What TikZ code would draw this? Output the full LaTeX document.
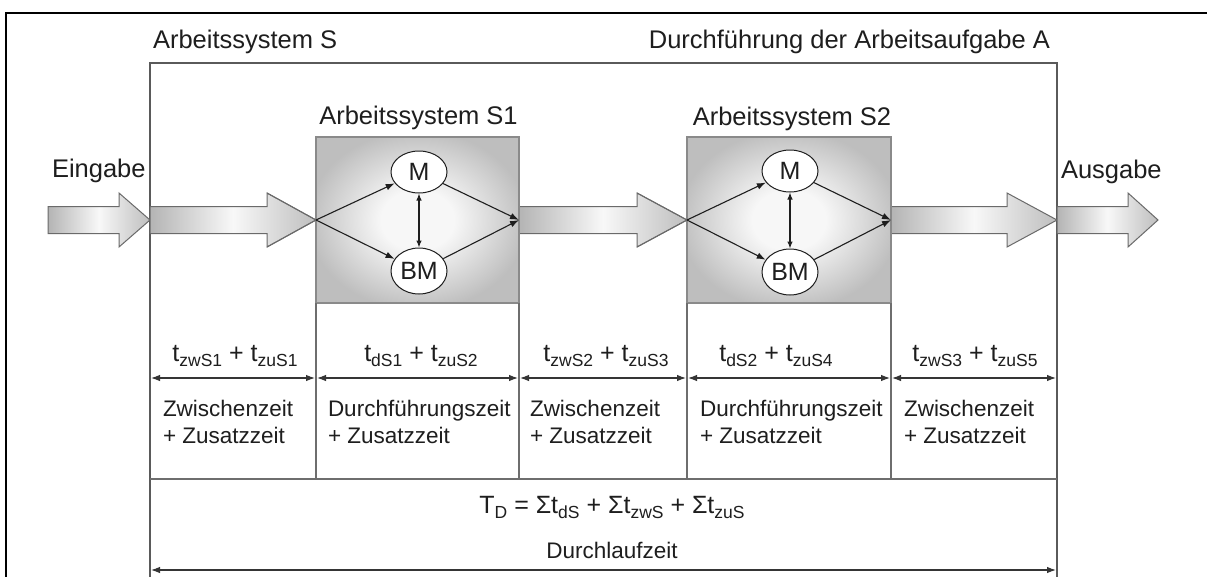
\documentclass[tikz,border=0pt]{standalone}
\usepackage{fontspec}
\setmainfont{Liberation Sans}
\usetikzlibrary{arrows.meta,shapes.geometric}

\definecolor{ink}{HTML}{1E1E1E}
\definecolor{frameline}{HTML}{5A5A5A}
\definecolor{cellline}{HTML}{6E6E6E}
\definecolor{boxedge}{HTML}{8A8A8A}
\definecolor{boxout}{HTML}{BEBEBE}
\definecolor{boxin}{HTML}{F7F7F7}
\definecolor{arrgray}{HTML}{B4B4B4}
\definecolor{arrlight}{HTML}{F8F8F8}
\definecolor{arrhead}{HTML}{BEBEBE}
\definecolor{arredge}{HTML}{6A6A6A}

% soft white glow in the middle of each work system box
\pgfdeclareradialshading{sysglow}{\pgfpoint{0bp}{0bp}}{%
  color(0bp)=(boxin); color(9bp)=(boxin); color(27bp)=(boxout); color(50bp)=(boxout)}

% lowered subscript for the time symbols
\newcommand{\tsub}[1]{\raisebox{-5pt}{\fontsize{17.5}{17.5}\selectfont #1}}

% block arrow: shaft start, head start, tip
\newcommand{\blockarrow}[3]{%
  \shadedraw[flowarrow] (#1,206.5) -- (#2,206.5) -- (#2,193) -- (#3,220)
    -- (#2,247) -- (#2,233.5) -- (#1,233.5) -- cycle;}

\begin{document}
\begin{tikzpicture}[x=1pt,y=-1pt,
  txt/.style={inner sep=0pt, outer sep=0pt, text=ink},
  headfont/.style={font=\fontsize{25.5}{30}\selectfont},
  descfont/.style={font=\fontsize{22.5}{27}\selectfont},
  timefont/.style={font=\fontsize{25}{29}\selectfont},
  flowarrow/.style={draw=arredge, line width=1pt, left color=arrgray,
    right color=arrhead, middle color=arrlight},
  sysbox/.style={rectangle, draw=boxedge, line width=1.2pt, shading=sysglow,
    minimum width=#1, minimum height=166pt, inner sep=0pt, outer sep=0pt},
  unit/.style={ellipse, draw=ink, fill=white, line width=1pt, inner sep=0pt,
    minimum width=56pt, minimum height=#1, text=ink,
    font=\fontsize{25}{30}\selectfont},
  flow/.style={draw=ink, line width=1.1pt, -{Latex[length=9pt,width=6.5pt]}},
  link/.style={draw=ink, line width=1.1pt,
    {Latex[length=7pt,width=5.5pt]}-{Latex[length=7pt,width=5.5pt]}},
  dim/.style={draw=ink!90, line width=1.1pt, shorten <=1pt, shorten >=1pt,
    {Latex[length=9pt,width=6.5pt]}-{Latex[length=9pt,width=6.5pt]}},
  cell/.style={draw=cellline, line width=1.3pt},
  desc/.style={txt, descfont, anchor=base west},
  tlabel/.style={txt, timefont, anchor=base}
]
\clip (0,0) rectangle (1207,576);
\fill[white] (0,0) rectangle (1207,576);

% outer page frame
\draw[line width=2.6pt, black] (6,600) |- (1230,13);

% frame of the overall work system S
\draw[frameline, line width=1.3pt] (150,600) |- (1057,63) -- (1057,600);

% headings
\node[txt, headfont, anchor=base west] (tS) at (153,48) {Arbeitssystem S};
\node[txt, headfont, anchor=base east] (tA) at (1050,48) {Durchführung der Arbeitsaufgabe A};
\node[txt, headfont, anchor=base west] (tin) at (52,177) {Eingabe};
\node[txt, headfont, anchor=base west] (tout) at (1061,178) {Ausgabe};

% material flow between the stations
\blockarrow{48}{119}{150}
\blockarrow{150}{267}{316}
\blockarrow{519}{637}{687}
\blockarrow{891}{1007}{1057}
\blockarrow{1057}{1128}{1158}

% work systems S1 and S2
\node[sysbox=203pt] (S1) at (417.5,220) {};
\node[sysbox=204pt] (S2) at (789,220) {};
\node[txt, headfont, anchor=base] (tS1) at (418.5,124) {Arbeitssystem S1};
\node[txt, headfont, anchor=base] (tS2) at (792,125) {Arbeitssystem S2};

% flow arrow heads re-drawn over the box edges
\draw[arredge, line width=1pt] (267,193) -- (316,220) -- (267,247);
\draw[arredge, line width=1pt] (637,193) -- (687,220) -- (637,247);

% human (M) and operating means (BM) inside each system
\node[unit=42pt] (M1) at (419,172) {M};
\node[unit=46pt] (BM1) at (419,271) {BM};
\node[unit=42pt] (M2) at (790,171) {M};
\node[unit=46pt] (BM2) at (790,272) {BM};

\foreach \s/\m/\b in {S1/M1/BM1, S2/M2/BM2} {
  \draw[flow] (\s.west) -- (\m);
  \draw[flow] (\s.west) -- (\b);
  \draw[flow] (\m) -- (\s.east);
  \draw[flow] (\b) -- (\s.east);
  \draw[link] (\m.south) -- (\b.north);
}

% time table below the systems
\coordinate (r0) at (150,479);
\coordinate (r5) at (1057,479);
\draw[cell] (r0) -- (r5);
\draw[cell] (S1.south west) -- (S1.south west |- r0);
\draw[cell] (S1.south east) -- (S1.south east |- r0);
\draw[cell] (S2.south west) -- (S2.south west |- r0);
\draw[cell] (S2.south east) -- (S2.south east |- r0);

% dimension lines of the single phases
\coordinate (d0) at (150,378);
\coordinate (d1) at (316,378);
\coordinate (d2) at (519,378);
\coordinate (d3) at (687,378);
\coordinate (d4) at (891,378);
\coordinate (d5) at (1057,378);
\draw[dim] (d0) -- (d1);
\draw[dim] (d1) -- (d2);
\draw[dim] (d2) -- (d3);
\draw[dim] (d3) -- (d4);
\draw[dim] (d4) -- (d5);

\node[tlabel] (l1) at (235,361) {t\tsub{zwS1} + t\tsub{zuS1}};
\node[tlabel] (l2) at (421,361) {t\tsub{dS1} + t\tsub{zuS2}};
\node[tlabel] (l3) at (606,361) {t\tsub{zwS2} + t\tsub{zuS3}};
\node[tlabel] (l4) at (776,361) {t\tsub{dS2} + t\tsub{zuS4}};
\node[tlabel] (l5) at (975,361) {t\tsub{zwS3} + t\tsub{zuS5}};

\node[desc] (a1) at (163,416) {Zwischenzeit};
\node[desc] (b1) at (163,443) {+ Zusatzzeit};
\node[desc] (a2) at (328,416) {Durchführungszeit};
\node[desc] (b2) at (328,443) {+ Zusatzzeit};
\node[desc] (a3) at (530,416) {Zwischenzeit};
\node[desc] (b3) at (530,443) {+ Zusatzzeit};
\node[desc] (a4) at (700,416) {Durchführungszeit};
\node[desc] (b4) at (700,443) {+ Zusatzzeit};
\node[desc] (a5) at (904,416) {Zwischenzeit};
\node[desc] (b5) at (904,443) {+ Zusatzzeit};

% total lead time
\node[tlabel] (total) at (612,513) {T\tsub{D} = Σt\tsub{dS} + Σt\tsub{zwS} + Σt\tsub{zuS}};
\node[txt, descfont, anchor=base] (lead) at (612,558) {Durchlaufzeit};
\coordinate (e0) at (150,570);
\coordinate (e1) at (1057,570);
\draw[dim] (e0) -- (e1);
\end{tikzpicture}
\end{document}
